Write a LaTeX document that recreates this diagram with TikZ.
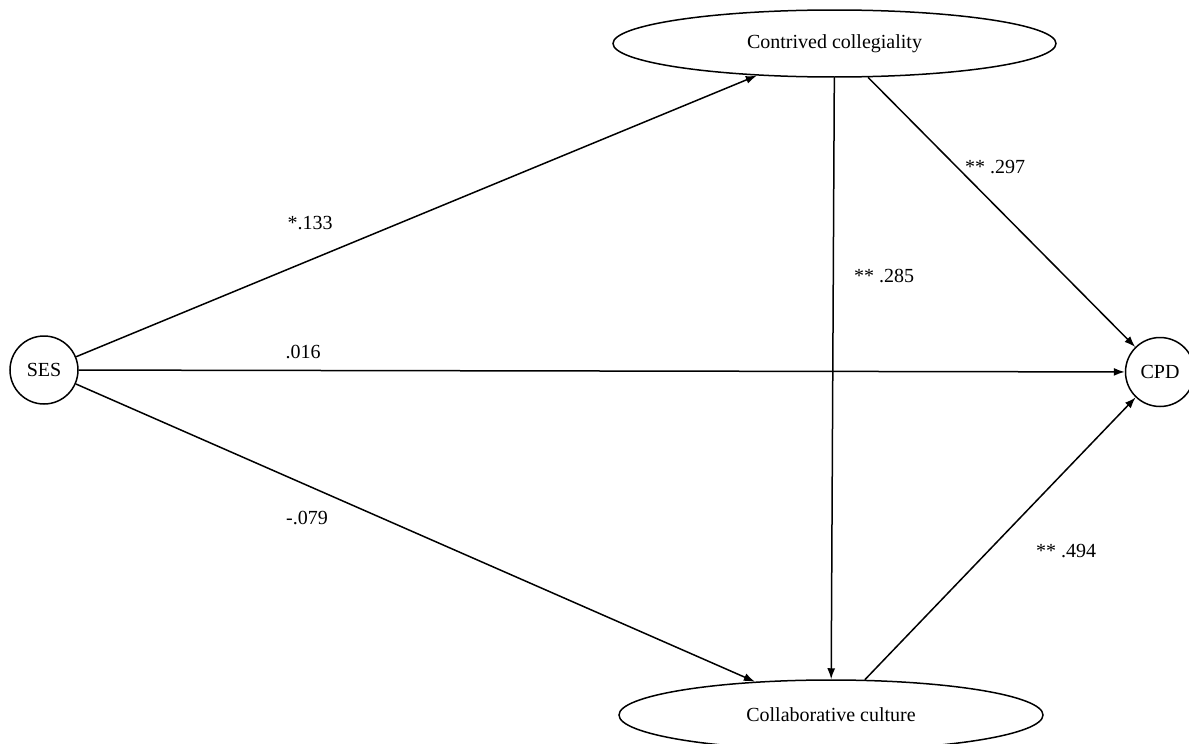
\documentclass[tikz,border=0pt]{standalone}
\usepackage{fontspec}
\setmainfont{Liberation Serif}
\usetikzlibrary{shapes.geometric,arrows.meta}
\begin{document}
\begin{tikzpicture}[x=1pt,y=-1pt,
  every node/.style={font=\fontsize{20}{24}\selectfont},
  var/.style={draw,line width=1.5pt,circle,inner sep=0pt,minimum size=68pt},
  lat/.style={draw,line width=1.5pt,ellipse,inner sep=0pt},
  path/.style={line width=1.5pt,-{Latex[length=11pt,width=8pt]}},
  coef/.style={anchor=base,inner sep=0pt}]
\useasboundingbox[fill=white] (0,0) rectangle (1189,744);
\node[var] (ses) at (44,370) {SES};
\node[var,minimum size=69pt] (cpd) at (1160,372) {CPD};
\node[lat,minimum width=443pt,minimum height=67pt] (cc) at (834.5,43.5) {Contrived collegiality};
\node[lat,minimum width=424pt,minimum height=70pt] (col) at (831,715) {Collaborative culture};
\draw[path] (ses) -- (cc);
\draw[path] (ses) -- (cpd);
\draw[path] (ses) -- (col);
\draw[path] (cc) -- (col);
\draw[path] (cc) -- (cpd);
\draw[path] (col) -- (cpd);
\node[coef] (l1) at (310,229) {*.133};
\node[coef] (l2) at (303,358) {.016};
\node[coef] (l3) at (307,524) {-.079};
\node[coef] (l4) at (884,282) {** .285};
\node[coef] (l5) at (995,173) {** .297};
\node[coef] (l6) at (1066,557) {** .494};
\end{tikzpicture}
\end{document}
